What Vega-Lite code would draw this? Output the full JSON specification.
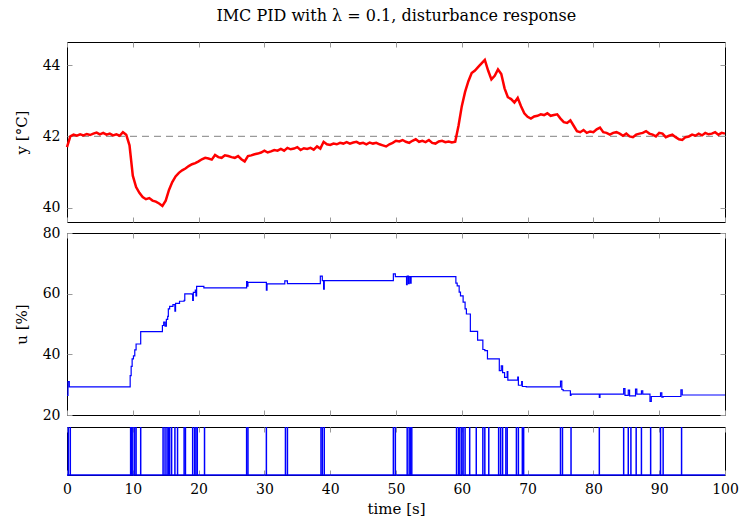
{
  "$schema": "https://vega.github.io/schema/vega-lite/v6.json",
  "padding": {"left": 13, "right": 0, "top": 7, "bottom": 0},
  "title": {"text": "IMC PID with λ = 0.1, disturbance response", "font": "DejaVu Serif", "fontSize": 16, "fontWeight": "normal", "color": "#000", "anchor": "middle", "offset": 18, "dx": 20},
  "datasets": {
    "ydata": [
      {"t":0,"y":41.7},{"t":0.5,"y":42.0},{"t":1,"y":42.05},{"t":1.5,"y":42.02},{"t":2,"y":42.06},{"t":2.5,"y":42.03},{"t":3,"y":42.07},{"t":3.5,"y":42.04},{"t":4,"y":42.08},{"t":4.5,"y":42.11},
      {"t":5,"y":42.06},{"t":5.5,"y":42.1},{"t":6,"y":42.05},{"t":6.5,"y":42.08},{"t":7,"y":42.03},{"t":7.5,"y":42.06},{"t":8,"y":42.02},{"t":8.5,"y":42.12},{"t":9,"y":42.05},{"t":9.5,"y":41.75},
      {"t":10,"y":40.9},{"t":10.5,"y":40.58},{"t":11,"y":40.42},{"t":11.5,"y":40.3},{"t":12,"y":40.24},{"t":12.5,"y":40.27},{"t":13,"y":40.2},{"t":13.5,"y":40.17},{"t":14,"y":40.12},{"t":14.5,"y":40.05},
      {"t":15,"y":40.2},{"t":15.5,"y":40.5},{"t":16,"y":40.72},{"t":16.5,"y":40.88},{"t":17,"y":40.98},{"t":17.5,"y":41.05},{"t":18,"y":41.1},{"t":18.5,"y":41.17},{"t":19,"y":41.22},{"t":19.5,"y":41.25},
      {"t":20,"y":41.3},{"t":20.5,"y":41.36},{"t":21,"y":41.4},{"t":21.5,"y":41.38},{"t":22,"y":41.35},{"t":22.5,"y":41.48},{"t":23,"y":41.42},{"t":23.5,"y":41.4},{"t":24,"y":41.47},{"t":24.5,"y":41.45},
      {"t":25,"y":41.42},{"t":25.5,"y":41.4},{"t":26,"y":41.45},{"t":26.5,"y":41.36},{"t":27,"y":41.3},{"t":27.5,"y":41.45},{"t":28,"y":41.47},{"t":28.5,"y":41.5},{"t":29,"y":41.52},{"t":29.5,"y":41.55},
      {"t":30,"y":41.6},{"t":30.5,"y":41.55},{"t":31,"y":41.58},{"t":31.5,"y":41.62},{"t":32,"y":41.6},{"t":32.5,"y":41.65},{"t":33,"y":41.6},{"t":33.5,"y":41.68},{"t":34,"y":41.64},{"t":34.5,"y":41.66},
      {"t":35,"y":41.7},{"t":35.5,"y":41.62},{"t":36,"y":41.67},{"t":36.5,"y":41.65},{"t":37,"y":41.68},{"t":37.5,"y":41.63},{"t":38,"y":41.72},{"t":38.5,"y":41.66},{"t":39,"y":41.85},{"t":39.5,"y":41.78},
      {"t":40,"y":41.76},{"t":40.5,"y":41.8},{"t":41,"y":41.78},{"t":41.5,"y":41.82},{"t":42,"y":41.8},{"t":42.5,"y":41.84},{"t":43,"y":41.8},{"t":43.5,"y":41.83},{"t":44,"y":41.85},{"t":44.5,"y":41.8},
      {"t":45,"y":41.82},{"t":45.5,"y":41.78},{"t":46,"y":41.83},{"t":46.5,"y":41.8},{"t":47,"y":41.82},{"t":47.5,"y":41.78},{"t":48,"y":41.75},{"t":48.5,"y":41.72},{"t":49,"y":41.78},{"t":49.5,"y":41.82},
      {"t":50,"y":41.88},{"t":50.5,"y":41.86},{"t":51,"y":41.9},{"t":51.5,"y":41.85},{"t":52,"y":41.82},{"t":52.5,"y":41.88},{"t":53,"y":41.92},{"t":53.5,"y":41.85},{"t":54,"y":41.88},{"t":54.5,"y":41.84},
      {"t":55,"y":41.9},{"t":55.5,"y":41.82},{"t":56,"y":41.8},{"t":56.5,"y":41.86},{"t":57,"y":41.88},{"t":57.5,"y":41.84},{"t":58,"y":41.86},{"t":58.5,"y":41.83},{"t":59,"y":41.85},{"t":59.5,"y":42.3},
      {"t":60,"y":42.85},{"t":60.5,"y":43.25},{"t":61,"y":43.55},{"t":61.5,"y":43.78},{"t":62,"y":43.85},{"t":62.5,"y":43.95},{"t":63,"y":44.05},{"t":63.5,"y":44.15},{"t":64,"y":43.85},{"t":64.5,"y":43.6},
      {"t":65,"y":43.7},{"t":65.5,"y":43.88},{"t":66,"y":43.75},{"t":66.5,"y":43.35},{"t":67,"y":43.1},{"t":67.5,"y":43.05},{"t":68,"y":42.95},{"t":68.5,"y":43.08},{"t":69,"y":42.85},{"t":69.5,"y":42.65},
      {"t":70,"y":42.55},{"t":70.5,"y":42.5},{"t":71,"y":42.56},{"t":71.5,"y":42.58},{"t":72,"y":42.62},{"t":72.5,"y":42.6},{"t":73,"y":42.65},{"t":73.5,"y":42.58},{"t":74,"y":42.6},{"t":74.5,"y":42.62},
      {"t":75,"y":42.5},{"t":75.5,"y":42.4},{"t":76,"y":42.38},{"t":76.5,"y":42.45},{"t":77,"y":42.3},{"t":77.5,"y":42.15},{"t":78,"y":42.12},{"t":78.5,"y":42.18},{"t":79,"y":42.1},{"t":79.5,"y":42.14},
      {"t":80,"y":42.12},{"t":80.5,"y":42.2},{"t":81,"y":42.25},{"t":81.5,"y":42.12},{"t":82,"y":42.1},{"t":82.5,"y":42.05},{"t":83,"y":42.1},{"t":83.5,"y":42.12},{"t":84,"y":42.08},{"t":84.5,"y":42.02},
      {"t":85,"y":42.08},{"t":85.5,"y":42.0},{"t":86,"y":41.98},{"t":86.5,"y":42.05},{"t":87,"y":42.08},{"t":87.5,"y":42.1},{"t":88,"y":42.15},{"t":88.5,"y":42.08},{"t":89,"y":42.05},{"t":89.5,"y":42.0},
      {"t":90,"y":42.1},{"t":90.5,"y":42.08},{"t":91,"y":41.98},{"t":91.5,"y":42.02},{"t":92,"y":42.05},{"t":92.5,"y":41.98},{"t":93,"y":41.92},{"t":93.5,"y":41.9},{"t":94,"y":41.98},{"t":94.5,"y":42.0},
      {"t":95,"y":42.05},{"t":95.5,"y":42.02},{"t":96,"y":42.08},{"t":96.5,"y":42.03},{"t":97,"y":42.1},{"t":97.5,"y":42.06},{"t":98,"y":42.08},{"t":98.5,"y":42.12},{"t":99,"y":42.05},{"t":99.5,"y":42.1},{"t":100,"y":42.08}
    ],
    "udata": [
      {"t":0,"u":26.5},{"t":0.15,"u":31},{"t":0.35,"u":29.3},{"t":9.6,"u":33},{"t":9.75,"u":36},{"t":9.9,"u":38.5},{"t":10.1,"u":39.5},{"t":10.3,"u":41.5},{"t":10.5,"u":43.4},{"t":11.2,"u":47.5},
      {"t":14.5,"u":49.5},{"t":14.7,"u":50.6},{"t":14.9,"u":49.3},{"t":15.1,"u":51.5},{"t":15.3,"u":52.5},{"t":15.4,"u":55},{"t":15.6,"u":55.8},{"t":16.1,"u":56.4},{"t":16.4,"u":54.2},{"t":16.5,"u":56.8},
      {"t":17.1,"u":57.5},{"t":17.8,"u":57.8},{"t":17.9,"u":59.9},{"t":19.0,"u":59.8},{"t":19.1,"u":57.8},{"t":19.2,"u":60.4},{"t":19.5,"u":61.2},{"t":19.6,"u":59.3},{"t":19.7,"u":62.4},{"t":20.8,"u":61.9},
      {"t":27.3,"u":64.0},{"t":27.4,"u":62.5},{"t":27.5,"u":63.7},{"t":30.3,"u":61.2},{"t":30.4,"u":63.2},{"t":33.1,"u":64.2},{"t":33.5,"u":63.3},{"t":38.5,"u":65.8},{"t":38.8,"u":64.3},{"t":39.0,"u":61.5},
      {"t":39.1,"u":64.3},{"t":49.6,"u":66.5},{"t":49.9,"u":65.6},{"t":51.6,"u":63.0},{"t":51.7,"u":65.8},{"t":51.9,"u":63.3},{"t":52.0,"u":65.6},{"t":52.2,"u":63.5},{"t":52.3,"u":65.6},{"t":59.1,"u":63.5},
      {"t":59.3,"u":62.6},{"t":59.6,"u":60.5},{"t":59.8,"u":59.3},{"t":60.2,"u":57.2},{"t":60.5,"u":55},{"t":60.7,"u":53.3},{"t":61.3,"u":47.6},{"t":62.4,"u":44.7},{"t":63.2,"u":41.6},{"t":63.5,"u":41.2},
      {"t":63.9,"u":38.5},{"t":65.7,"u":34.6},{"t":66.0,"u":36.2},{"t":66.2,"u":34},{"t":66.5,"u":32.4},{"t":66.9,"u":34.3},{"t":67.0,"u":31.5},{"t":68.5,"u":32.5},{"t":68.6,"u":29.8},{"t":69.1,"u":31},
      {"t":69.2,"u":29.4},{"t":69.8,"u":29.3},{"t":75.0,"u":31.2},{"t":75.2,"u":28.4},{"t":75.4,"u":28.0},{"t":76.5,"u":26.5},{"t":76.6,"u":26.9},{"t":80.9,"u":25.8},{"t":81.0,"u":26.9},{"t":84.6,"u":28.7},
      {"t":84.8,"u":26.5},{"t":85.3,"u":28.2},{"t":85.5,"u":26.3},{"t":86.4,"u":28.5},{"t":86.6,"u":26.9},{"t":87.3,"u":28},{"t":87.5,"u":26.9},{"t":88.6,"u":24.5},{"t":88.8,"u":26.1},{"t":90.2,"u":27.3},
      {"t":90.4,"u":25.9},{"t":90.6,"u":26.1},{"t":93.3,"u":28.3},{"t":93.5,"u":26.6},{"t":100,"u":26.6}
    ],
    "events": [
      {"t":0.2},{"t":0.5},{"t":9.67},{"t":9.8},{"t":10.0},{"t":10.3},{"t":10.5},{"t":11.2},{"t":14.6},{"t":14.9},{"t":15.2},{"t":15.4},{"t":15.6},{"t":15.9},{"t":16.4},{"t":16.8},{"t":17.8},{"t":18.0},{"t":19.1},{"t":19.4},{"t":19.6},{"t":19.8},{"t":20.9},
      {"t":27.3},{"t":27.5},{"t":30.3},{"t":33.2},{"t":33.5},{"t":38.6},{"t":38.8},{"t":39.1},{"t":49.6},{"t":49.9},{"t":51.7},{"t":52.0},{"t":52.2},{"t":52.4},
      {"t":59.2},{"t":59.5},{"t":59.7},{"t":60.0},{"t":60.2},{"t":60.5},{"t":61.2},{"t":62.2},{"t":63.2},{"t":63.5},{"t":64.1},{"t":65.6},{"t":65.9},{"t":66.2},{"t":66.7},{"t":66.9},{"t":68.3},{"t":68.6},{"t":69.2},{"t":69.4},
      {"t":75.0},{"t":75.3},{"t":76.6},{"t":80.9},{"t":84.6},{"t":85.3},{"t":85.7},{"t":86.5},{"t":87.3},{"t":88.7},{"t":90.2},{"t":90.6},{"t":93.4}
    ]
  },
  "vconcat": [
    {
      "width": 658, "height": 180,
      "layer": [
        {"data": {"values": [{"ref": 42}]}, "mark": {"type": "rule", "color": "#9a9a9a", "strokeDash": [7, 5], "strokeWidth": 1.2},
         "encoding": {"y": {"field": "ref", "type": "quantitative"}}},
        {"data": {"name": "ydata"}, "mark": {"type": "line", "color": "#ff0000", "strokeWidth": 2.5},
         "encoding": {
           "x": {"field": "t", "type": "quantitative", "scale": {"domain": [0, 100], "nice": false}, "axis": {"values": [0,10,20,30,40,50,60,70,80,90,100], "labels": false, "title": null, "ticks": false, "grid": true, "gridDash": [5, 170, 5, 1000]}},
           "y": {"field": "y", "type": "quantitative", "scale": {"domain": [39.6, 44.65], "nice": false, "zero": false}, "axis": {"values": [40, 42, 44], "title": "y  [°C]", "ticks": false, "labelPadding": 7, "titlePadding": 13, "grid": true, "gridDash": [5, 648, 5, 1000]}}
         }}
      ]
    },
    {
      "width": 658, "height": 182,
      "data": {"name": "udata"},
      "mark": {"type": "line", "color": "#0000ff", "strokeWidth": 1.2, "interpolate": "step-after"},
      "encoding": {
        "x": {"field": "t", "type": "quantitative", "scale": {"domain": [0, 100], "nice": false}, "axis": {"values": [0,10,20,30,40,50,60,70,80,90,100], "labels": false, "title": null, "ticks": false, "grid": true, "gridDash": [5, 172, 5, 1000]}},
        "y": {"field": "u", "type": "quantitative", "scale": {"domain": [20, 80], "nice": false, "zero": false}, "axis": {"values": [20, 40, 60, 80], "title": "u  [%]", "ticks": false, "labelPadding": 7, "titlePadding": 13, "grid": true, "gridDash": [5, 648, 5, 1000]}}
      }
    },
    {
      "width": 658, "height": 48,
      "layer": [
        {"data": {"values": [{"b": 0}]}, "mark": {"type": "rule", "color": "#0000ff", "strokeWidth": 1.5},
         "encoding": {"y": {"field": "b", "type": "quantitative", "scale": {"domain": [0, 1], "nice": false}, "axis": null}}},
        {"data": {"name": "events"}, "mark": {"type": "rule", "color": "#0000ff", "strokeWidth": 1.5},
         "encoding": {
           "x": {"field": "t", "type": "quantitative", "scale": {"domain": [0, 100], "nice": false}, "axis": {"values": [0,10,20,30,40,50,60,70,80,90,100], "title": "time [s]", "ticks": false, "labelPadding": 7, "titlePadding": 5, "grid": true, "gridDash": [5, 38, 5, 1000]}}
         }}
      ]
    }
  ],
  "spacing": 2,
  "config": {
    "font": "DejaVu Serif",
    "view": {"stroke": "#000", "strokeWidth": 1},
    "axis": {"domain": false, "gridColor": "#9a9a9a", "gridOpacity": 1, "gridWidth": 1, "labelFont": "DejaVu Serif", "labelFontSize": 14, "labelColor": "#000", "titleFont": "DejaVu Serif", "titleFontSize": 15, "titleFontWeight": "normal", "titleColor": "#000", "labelFlush": false}
  }
}
